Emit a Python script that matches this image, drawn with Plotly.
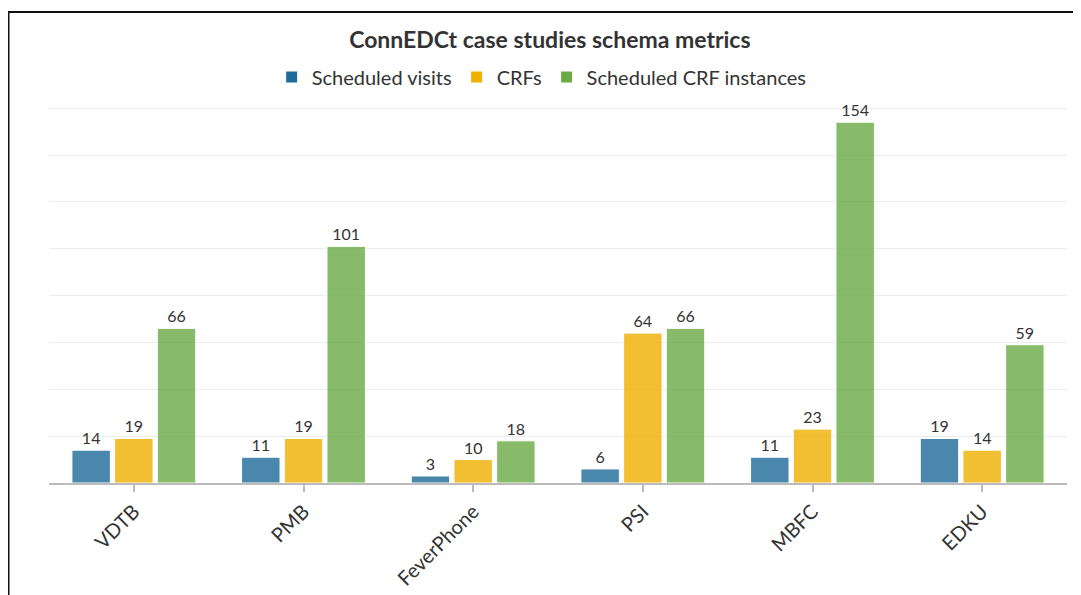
import plotly.graph_objects as go

categories = ["VDTB", "PMB", "FeverPhone", "PSI", "MBFC", "EDKU"]
scheduled_visits = [14, 11, 3, 6, 11, 19]
crfs = [19, 19, 10, 64, 23, 14]
scheduled_crf_instances = [66, 101, 18, 66, 154, 59]

series = [
    ("Scheduled visits", scheduled_visits, "#1e6a98"),
    ("CRFs", crfs, "#f0b000"),
    ("Scheduled CRF instances", scheduled_crf_instances, "#6aab45"),
]

FONT = "Lato, Open Sans, sans-serif"

fig = go.Figure()
for name, vals, col in series:
    fig.add_trace(go.Bar(
        x=categories, y=vals, name=name,
        marker=dict(color=col, opacity=0.8, line=dict(color="white", width=1)),
        text=[str(v) for v in vals], textposition="outside",
        textfont=dict(family=FONT, size=16, color="#333333"),
        cliponaxis=False,
    ))

# page body has an 8px margin, so the figure is shifted by 8px
W, H = 1073, 587
ml, mr, mt, mb = 41, 14, 99, 112
pw = W - ml - mr
ph = H - mt - mb

fig.update_layout(
    width=W, height=H,
    margin=dict(l=ml, r=mr, t=mt, b=mb, autoexpand=False),
    paper_bgcolor="white", plot_bgcolor="white",
    barmode="group", bargap=0.245, bargroupgap=0.1,
    title=dict(text="<b>ConnEDCt case studies schema metrics</b>",
               x=0.505, xanchor="center", y=1 - 32 / H, yanchor="middle",
               font=dict(family=FONT, size=23, color="#333333")),
    legend=dict(orientation="h", x=0.484, xanchor="center", y=1 - 69 / H, yref="container",
                yanchor="middle",
                font=dict(family=FONT, size=20, color="#333333"),
                itemwidth=30, tracegroupgap=0),
    font=dict(family=FONT, color="#333333"),
    xaxis=dict(showline=True, linecolor="#bbbbbb", linewidth=2, ticks="outside",
               tickcolor="#bbbbbb", ticklen=7, tickwidth=2, tickangle=-45,
               tickfont=dict(family=FONT, size=20, color="#333333"),
               showgrid=False, automargin=False),
    yaxis=dict(range=[0, 160.5], tickvals=[20, 40, 60, 80, 100, 120, 140, 160],
               showgrid=True, gridcolor="#ececec", gridwidth=1, automargin=False,
               showticklabels=False, zeroline=False, showline=False),
    showlegend=True,
)

# outer frame
fig.add_shape(type="rect", xref="paper", yref="paper",
              x0=(0.5 - ml) / pw, x1=1.2, y0=-0.6, y1=(H - mb - 4) / ph,
              line=dict(color="#111111", width=2), fillcolor="rgba(0,0,0,0)", layer="above")

fig.write_html("out.html")
